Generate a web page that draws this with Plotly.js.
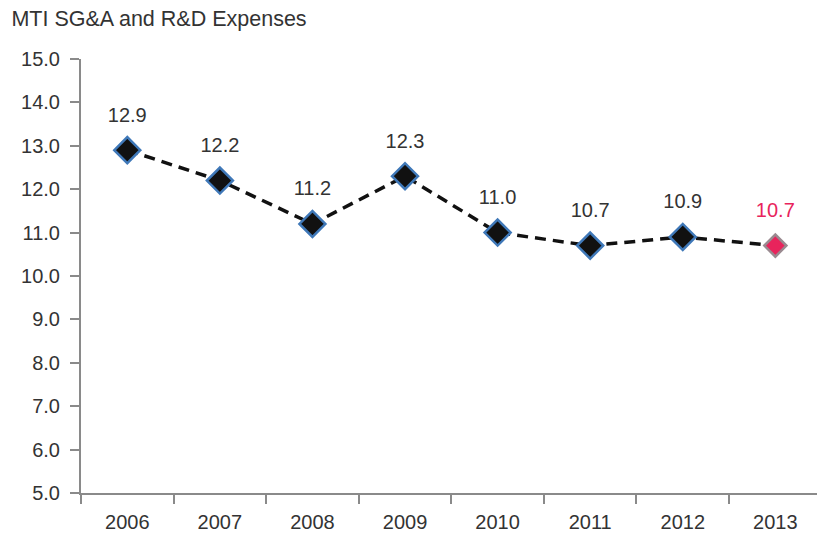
<!DOCTYPE html>
<html>
<head>
<meta charset="utf-8">
<script src="https://cdn.plot.ly/plotly-3.0.1.min.js"></script>
<style>html,body{margin:0;padding:0;background:#fff;}#chart{width:817px;height:538px;}</style>
</head>
<body>
<div id="chart"></div>
<script>
const years = ['2006','2007','2008','2009','2010','2011','2012','2013'];
const values = [12.9, 12.2, 11.2, 12.3, 11.0, 10.7, 10.9, 10.7];
const yTicks = [5,6,7,8,9,10,11,12,13,14,15];

const n = years.length;
const markerColors = values.map((v,i)=> i===n-1 ? '#e8245c' : '#111111');
const markerLines = values.map((v,i)=> i===n-1 ? '#9a8a90' : '#3f78b8');
const markerSizes = values.map((v,i)=> i===n-1 ? 17 : 20);
const textColors = values.map((v,i)=> i===n-1 ? '#e8245c' : '#333333');
const FONT = 'Liberation Sans, Arial, sans-serif';

const lineTrace = {
  x: years, y: values, type: 'scatter', mode: 'lines+markers',
  line: {color: '#111', width: 3.5, dash: '11px,7px'},
  marker: {symbol: 'diamond', size: markerSizes, color: markerColors, opacity: 1, line: {color: markerLines, width: 2.5}},
  opacity: 1, hoverinfo: 'skip'
};

const labelTrace = {
  x: years, y: values, type: 'scatter', mode: 'markers+text',
  text: values.map(v => v.toFixed(1)), textposition: 'top center',
  textfont: {family: FONT, size: 20, color: textColors},
  marker: {size: 36, color: 'rgba(0,0,0,0)', line: {width: 0}},
  hoverinfo: 'skip', cliponaxis: false
};

const layout = {
  width: 817, height: 538,
  margin: {l: 81, r: 0, t: 59, b: 45},
  paper_bgcolor: '#fff', plot_bgcolor: '#fff',
  showlegend: false,
  font: {family: FONT, size: 20, color: '#333'},
  title: {text: 'MTI SG&A and R&D Expenses', x: 0.014, xanchor: 'left', y: 0.966, yanchor: 'middle', font: {family: FONT, size: 21.5, color: '#333'}},
  xaxis: {
    type: 'category', range: [-0.5, 7.45], showgrid: false, zeroline: false,
    showline: true, linecolor: '#8a8a8a', linewidth: 2,
    ticks: 'outside', tickson: 'boundaries', ticklen: 9, tickwidth: 2, tickcolor: '#8a8a8a',
    tickfont: {family: FONT, size: 20, color: '#333'}, ticklabelstandoff: 10
  },
  yaxis: {
    range: [5, 15], tickvals: yTicks, tickformat: '.1f', showgrid: false, zeroline: false,
    showline: true, linecolor: '#8a8a8a', linewidth: 2,
    ticks: 'outside', ticklen: 9, tickwidth: 2, tickcolor: '#8a8a8a',
    tickfont: {family: FONT, size: 20, color: '#333'}, ticklabelstandoff: 6
  }
};

Plotly.newPlot('chart', [lineTrace, labelTrace], layout, {staticPlot: true, displayModeBar: false});
</script>
</body>
</html>
